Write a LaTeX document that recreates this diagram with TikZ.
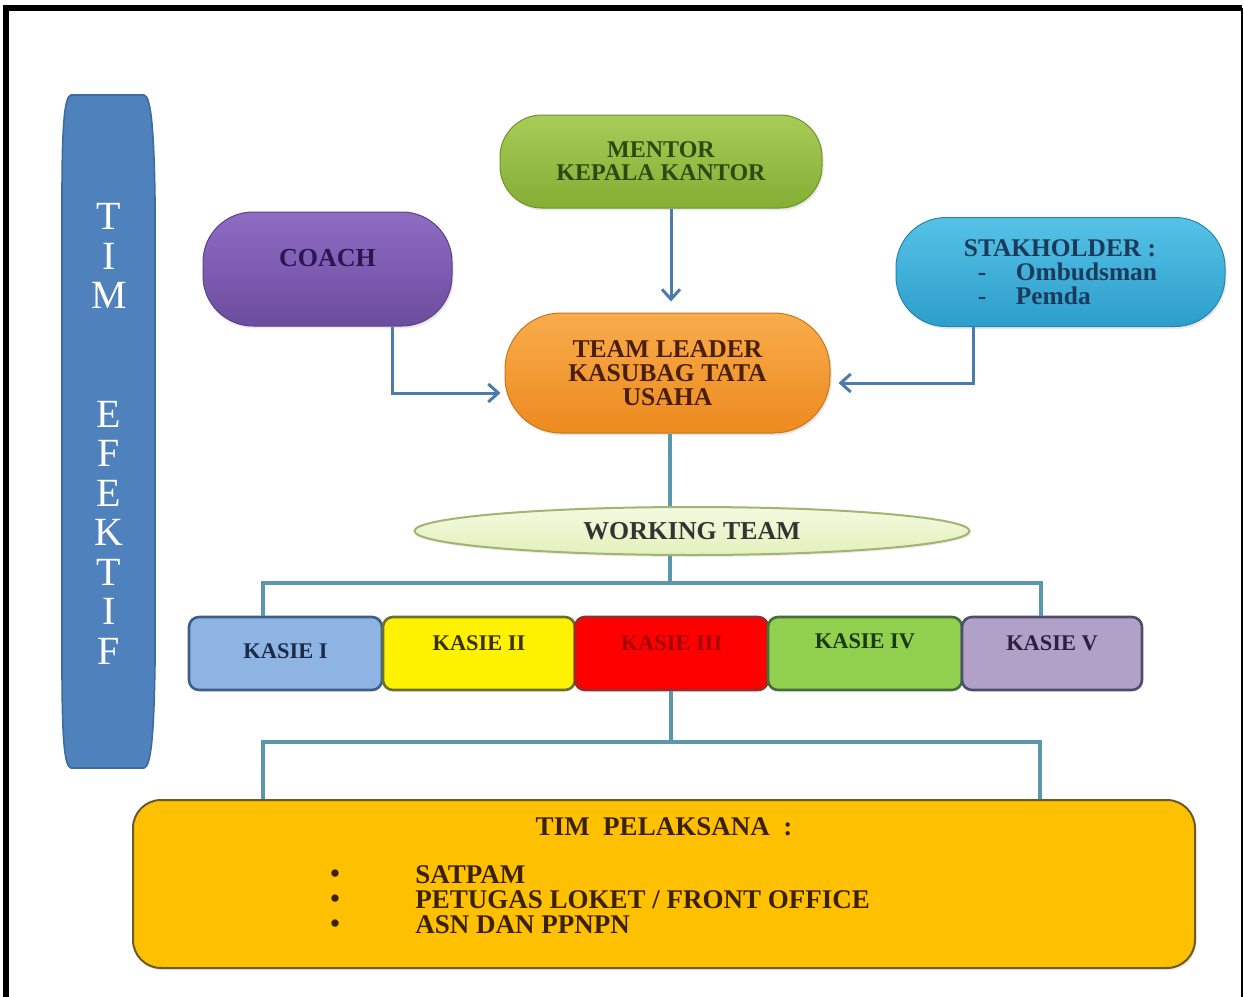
\documentclass[tikz,border=0pt]{standalone}
\usepackage{fontspec}
\setmainfont{Liberation Serif}
\usetikzlibrary{arrows.meta,shadows,shapes.geometric}

\definecolor{barBlue}{HTML}{4F81BD}
\definecolor{barEdge}{HTML}{3F6C9F}
\definecolor{mentorTop}{HTML}{A8CC58}
\definecolor{mentorBot}{HTML}{84AE34}
\definecolor{mentorTxt}{HTML}{2D4A12}
\definecolor{coachTop}{HTML}{8E6CC4}
\definecolor{coachBot}{HTML}{6C4C9E}
\definecolor{coachTxt}{HTML}{2A1650}
\definecolor{stakeTop}{HTML}{56C2E6}
\definecolor{stakeBot}{HTML}{2C9ECB}
\definecolor{stakeTxt}{HTML}{1B3A5C}
\definecolor{tlTop}{HTML}{F9AC4C}
\definecolor{tlBot}{HTML}{EC8A1E}
\definecolor{tlTxt}{HTML}{4A1E00}
\definecolor{wtTop}{HTML}{F4FADF}
\definecolor{wtBot}{HTML}{E2F0BC}
\definecolor{wtEdge}{HTML}{A3B373}
\definecolor{arrowBlue}{HTML}{4C7CAE}
\definecolor{busTeal}{HTML}{5B97AC}
\definecolor{pelFill}{HTML}{FFC000}
\definecolor{pelEdge}{HTML}{6B5A2A}
\definecolor{pelTxt}{HTML}{3A2200}

\tikzset{
  pill/.style={rectangle, align=center, inner sep=0pt, line width=0.5pt,
    drop shadow={opacity=0.18, shadow xshift=0.8pt, shadow yshift=-1.2pt}},
  kbox/.style={rectangle, rounded corners=5pt, minimum height=36.5pt,
    line width=1.3pt, inner sep=0pt},
  ktext/.style={font=\fontsize{11.2}{12}\selectfont\bfseries, inner sep=0pt},
  arr/.style={draw=arrowBlue, line width=1.5pt,
    -{Straight Barb[length=5pt,width=9pt]}},
  bus/.style={draw=busTeal, line width=2pt},
  ptext/.style={font=\fontsize{13.5}{14}\selectfont\bfseries, text=pelTxt,
    inner sep=0pt, text depth=0pt}
}

\begin{document}
\begin{tikzpicture}[x=0.5pt,y=-0.5pt]
\useasboundingbox (0,0) rectangle (1244,997);
\fill[white] (0,0) rectangle (1244,997);

% outer frame
\draw[line width=3pt] (6,1010) -- (6,8) -- (1242,8);
\draw[line width=1pt] (1242,8) -- (1242,1010);

% vertical side banner with softly flared corners
\path[draw=barEdge, fill=barBlue, line width=0.8pt]
  (71,95) -- (144,95)
  .. controls (151,96) and (154,130) .. (155,200) -- (155,662)
  .. controls (154,735) and (151,767) .. (144,768)
  -- (71,768)
  .. controls (64,767) and (62,735) .. (62,662) -- (62,200)
  .. controls (62,130) and (64,96) .. (71,95) -- cycle;
\node[text=white, align=center, font=\fontsize{20}{19.75}\selectfont, inner sep=0pt]
  (bartext) at (109,434) {T\\I\\M\\~\\~\\E\\F\\E\\K\\T\\I\\F};

% top level boxes
\node[pill, minimum width=161pt, minimum height=46.5pt, rounded corners=21pt,
  top color=mentorTop, bottom color=mentorBot, draw=mentorBot!85!black,
  text=mentorTxt, font=\fontsize{12}{11.5}\selectfont\bfseries]
  (mentor) at (661,161.5) {MENTOR\\KEPALA KANTOR};

\node[pill, minimum width=124.5pt, minimum height=57pt, rounded corners=25pt,
  top color=coachTop, bottom color=coachBot, draw=coachBot!85!black]
  (coach) at (327.5,269) {};
\node[text=coachTxt, font=\fontsize{13}{13}\selectfont\bfseries, inner sep=0pt]
  (coachtext) at (327.5,258) {COACH};

\node[pill, minimum width=164.5pt, minimum height=54.5pt, rounded corners=25pt,
  top color=stakeTop, bottom color=stakeBot, draw=stakeBot!85!black,
  text=stakeTxt, align=left, font=\fontsize{12.7}{12}\selectfont\bfseries]
  (stake) at (1060.5,272) {STAKHOLDER :\\
  \makebox[26pt][l]{\hspace{7pt}-}Ombudsman\\
  \makebox[26pt][l]{\hspace{7pt}-}Pemda};

\node[pill, minimum width=162.5pt, minimum height=60pt, rounded corners=28pt,
  top color=tlTop, bottom color=tlBot, draw=tlBot!85!black,
  text=tlTxt, font=\fontsize{12.8}{12}\selectfont\bfseries]
  (tl) at (667.5,373) {TEAM LEADER\\KASUBAG TATA\\USAHA};

\node[ellipse, minimum width=277.5pt, minimum height=24pt, inner sep=0pt,
  top color=wtTop, bottom color=wtBot, draw=wtEdge, line width=1pt,
  font=\fontsize{12.9}{13}\selectfont\bfseries, text=black!80,
  drop shadow={opacity=0.15, shadow xshift=0.6pt, shadow yshift=-1pt}]
  (wt) at (692,531) {WORKING TEAM};

% section boxes
\node[kbox, minimum width=96.5pt, fill={rgb,255:red,141;green,180;blue,226}, draw={rgb,255:red,61;green,95;blue,138}] (k1) at (285.5,653.5) {};
\node[kbox, minimum width=96pt, fill=yellow, draw={rgb,255:red,107;green,112;blue,48}] (k2) at (479,653.5) {};
\node[kbox, minimum width=96.5pt, fill=red, draw={rgb,255:red,160;green,40;blue,40}] (k3) at (671.5,653.5) {};
\node[kbox, minimum width=97pt, fill={rgb,255:red,146;green,208;blue,80}, draw={rgb,255:red,65;green,112;blue,58}] (k4) at (865,653.5) {};
\node[kbox, minimum width=90pt, fill={rgb,255:red,178;green,161;blue,199}, draw={rgb,255:red,77;green,77;blue,109}] (k5) at (1052,653.5) {};

\node[ktext, text={rgb,255:red,26;green,42;blue,74}, yshift=1.25pt] (k1t) at (k1) {KASIE I};
\node[ktext, text={rgb,255:red,58;green,48;blue,0}, yshift=5.25pt] (k2t) at (k2) {KASIE II};
\node[ktext, text={rgb,255:red,165;green,0;blue,0}, yshift=5.25pt] (k3t) at (k3) {KASIE III};
\node[ktext, text={rgb,255:red,26;green,58;blue,16}, yshift=6.25pt] (k4t) at (k4) {KASIE IV};
\node[ktext, text={rgb,255:red,42;green,32;blue,64}, yshift=5.25pt] (k5t) at (k5) {KASIE V};

% executing team
\node[rectangle, rounded corners=14pt, minimum width=531pt, minimum height=84pt,
  fill=pelFill, draw=pelEdge, line width=1pt, inner sep=0pt,
  drop shadow={opacity=0.15, shadow xshift=0.8pt, shadow yshift=-1.2pt}]
  (pel) at (664,884) {};
\node[ptext] (pelTitle) at (664,827) {TIM\ \ PELAKSANA\ \ :};
\node[ptext] (dot1) at (335,876) {\textbullet};
\node[ptext] (dot2) at (335,901) {\textbullet};
\node[ptext] (dot3) at (335,926) {\textbullet};
\node[ptext, anchor=west] (item1) at (415,875) {SATPAM};
\node[ptext, anchor=west] (item2) at (415,900) {PETUGAS LOKET / FRONT OFFICE};
\node[ptext, anchor=west] (item3) at (415,925) {ASN DAN PPNPN};

% connectors
\coordinate (xm) at (671,0);
\coordinate (xs) at (670,0);
\coordinate (cb) at (392,393);
\coordinate (sb) at (973,383);
\coordinate (bus1) at (670,583);
\coordinate (b1l) at (263,583);
\coordinate (b1r) at (1041,583);
\coordinate (bus2) at (671,742);
\coordinate (b2l) at (263,742);
\coordinate (b2r) at (1040,742);

\draw[arr, shorten >=5.5pt] (mentor.south -| xm) -- (tl.north -| xm);
\draw[arr, shorten >=2pt] (coach.south -| cb) |- (tl.west |- cb);
\draw[arr, shorten >=4pt] (stake.south -| sb) |- (tl.east |- sb);

\draw[bus] (tl.south -| xs) -- (wt.north -| xs);
\draw[bus] (wt.south -| xs) -- (bus1);
\draw[bus] (k1.north -| b1l) -- (b1l) -- (b1r) -- (k5.north -| b1r);

\draw[bus, line width=1.6pt] (k3.south -| bus2) -- (bus2);
\draw[bus, line width=1.6pt] (pel.north -| b2l) -- (b2l) -- (b2r) -- (pel.north -| b2r);
\end{tikzpicture}
\end{document}
